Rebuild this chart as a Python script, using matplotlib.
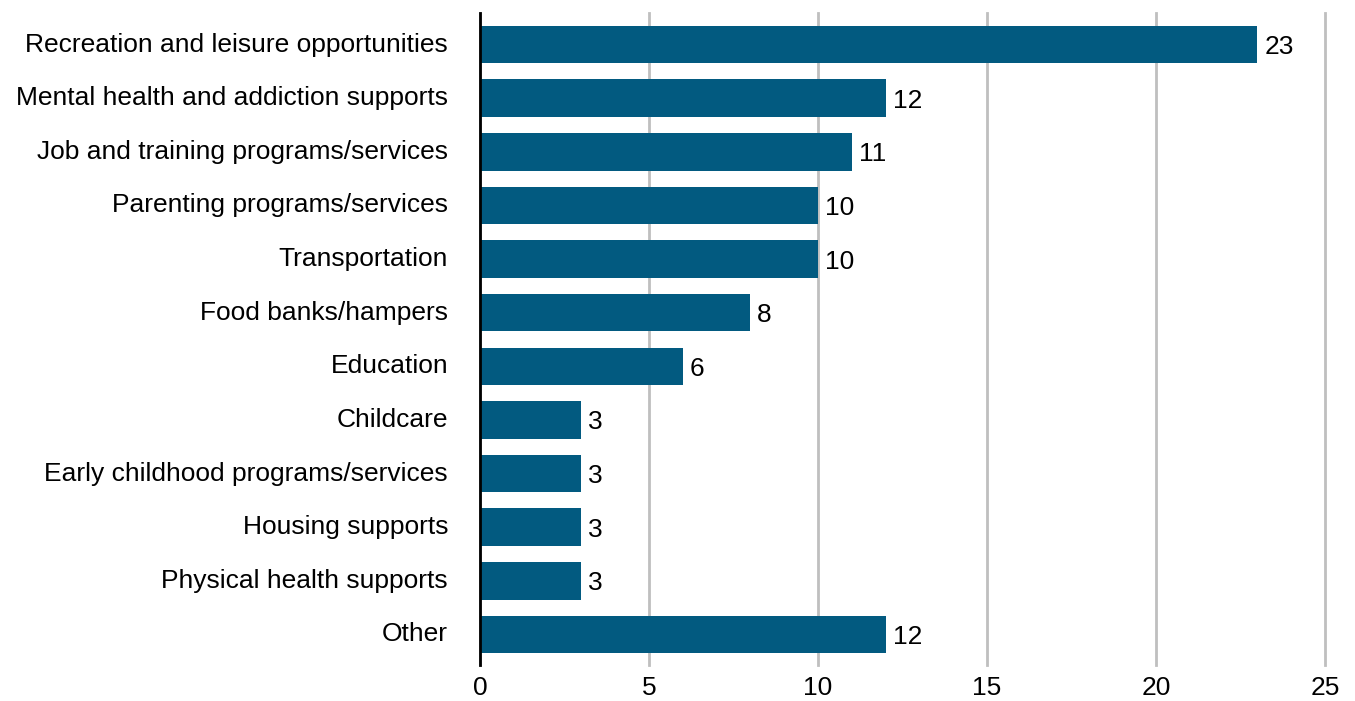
import matplotlib
matplotlib.use("Agg")
import matplotlib.pyplot as plt
from matplotlib.transforms import ScaledTranslation

categories = ["Recreation and leisure opportunities", "Mental health and addiction supports",
              "Job and training programs/services", "Parenting programs/services",
              "Transportation", "Food banks/hampers", "Education", "Childcare",
              "Early childhood programs/services", "Housing supports",
              "Physical health supports", "Other"]
values = [23, 12, 11, 10, 10, 8, 6, 3, 3, 3, 3, 12]
xticks = [0, 5, 10, 15, 20, 25]

FS = 19
plt.rcParams['font.family'] = ['Liberation Sans', 'DejaVu Sans']
fig = plt.figure(figsize=(13.55, 7.01), dpi=100)
ax = fig.add_axes([480/1355, 1-665/701, (1325-480)/1355, (665-13)/701])

pos = list(range(len(categories)))
ax.barh(pos, values, height=0.7, color="#025a80", zorder=3)
for p, v in zip(pos, values):
    ax.annotate(str(v), xy=(v, p), xytext=(5, -0.358 * FS), textcoords="offset points",
                va="baseline", ha="left", fontsize=FS, color="black")

ax.set_ylim(len(categories) - 1 + 0.57, -0.59)
ax.set_xlim(0, 25)
ax.set_yticks(pos)
ax.set_yticklabels(categories, fontsize=FS)
ax.set_xticks(xticks)
ax.set_xticklabels([str(t) for t in xticks], fontsize=FS)
ax.tick_params(axis='y', length=0, pad=23)
ax.tick_params(axis='x', length=0, pad=8)
for lab in ax.get_yticklabels():
    lab.set_transform(lab.get_transform() + ScaledTranslation(0, 2.5 / 100, fig.dpi_scale_trans))
ax.grid(axis='x', color="#bfbfbf", linewidth=2, zorder=0)
for ln in ax.get_xgridlines():
    ln.set_clip_on(False)
for s in ["top", "right", "bottom"]:
    ax.spines[s].set_visible(False)
ax.spines["left"].set_linewidth(2)
ax.spines["left"].set_color("black")
ax.spines["left"].set_zorder(4)

fig.savefig("out.png", dpi=100)
